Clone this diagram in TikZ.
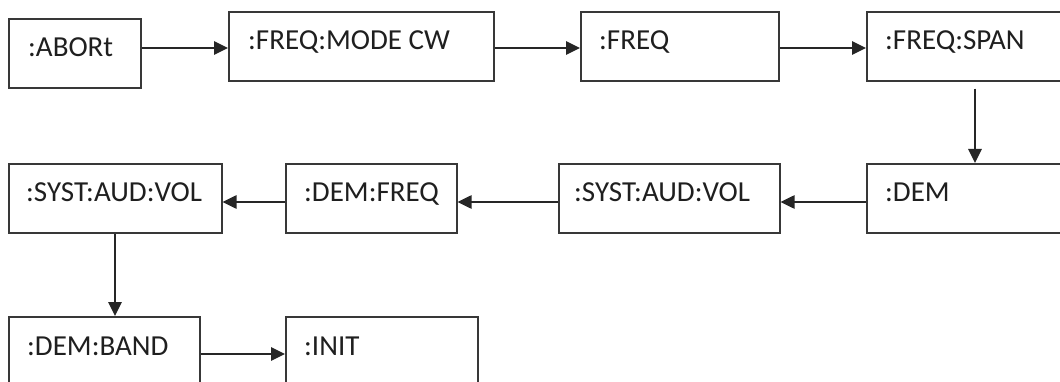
\documentclass[tikz,border=0pt]{standalone}
\usepackage{fontspec}
\setmainfont{Carlito}
\usetikzlibrary{arrows.meta}
\begin{document}
\begin{tikzpicture}[x=1pt,y=-1pt,
  box/.style={draw=black!78, line width=1.6pt, rectangle, inner sep=0pt, anchor=north west},
  txt/.style={inner sep=0pt, anchor=base west, text=black!88, font=\fontsize{29}{35}\selectfont},
  arr/.style={line width=1.3pt, draw=black!85, -{Triangle[length=14pt,width=13.5pt]}}]
\clip (0,0) rectangle (1060,382);
\useasboundingbox (0,0) rectangle (1060,382);
\fill[white] (0,0) rectangle (1060,382);
% boxes
\node[box, minimum width=132pt, minimum height=69pt] (b1) at (8,18) {};
\node[box, minimum width=265pt, minimum height=69pt] (b2) at (228,11) {};
\node[box, minimum width=198pt, minimum height=69pt] (b3) at (580,11) {};
\node[box, minimum width=214pt, minimum height=69pt] (b4) at (866,11) {};
\node[box, minimum width=214pt, minimum height=69pt] (b5) at (866,163) {};
\node[box, minimum width=221pt, minimum height=69pt] (b6) at (558,163) {};
\node[box, minimum width=171pt, minimum height=69pt] (b7) at (285,163) {};
\node[box, minimum width=213pt, minimum height=69pt] (b8) at (8,163) {};
\node[box, minimum width=191pt, minimum height=80pt] (b9) at (8,316) {};
\node[box, minimum width=192pt, minimum height=80pt] (b10) at (285,316) {};
% texts
\node[txt] (t1) at ([shift={(20pt,-39pt)}]b1.north west) {:ABORt};
\node[txt] (t2) at ([shift={(20pt,-39pt)}]b2.north west) {:FREQ:MODE CW};
\node[txt] (t3) at ([shift={(19pt,-39pt)}]b3.north west) {:FREQ};
\node[txt] (t4) at ([shift={(19pt,-39pt)}]b4.north west) {:FREQ:SPAN};
\node[txt] (t5) at ([shift={(19pt,-39pt)}]b5.north west) {:DEM};
\node[txt] (t6) at ([shift={(16pt,-39pt)}]b6.north west) {:SYST:AUD:VOL};
\node[txt] (t7) at ([shift={(19pt,-39pt)}]b7.north west) {:DEM:FREQ};
\node[txt] (t8) at ([shift={(18pt,-39pt)}]b8.north west) {:SYST:AUD:VOL};
\node[txt] (t9) at ([shift={(19pt,-39pt)}]b9.north west) {:DEM:BAND};
\node[txt] (t10) at ([shift={(19pt,-39pt)}]b10.north west) {:INIT};
% connectors
\coordinate (r1) at (0,48);
\coordinate (r2) at (0,202);
\coordinate (r3) at (0,354);
\coordinate (c1) at (975,0);
\coordinate (c2) at (115,0);
\draw[arr] (b1.east |- r1) -- (b2.west |- r1);
\draw[arr] (b2.east |- r1) -- (b3.west |- r1);
\draw[arr] (b3.east |- r1) -- (b4.west |- r1);
\draw[arr, shorten <=7pt] (b4.south -| c1) -- (b5.north -| c1);
\draw[arr] (b5.west |- r2) -- (b6.east |- r2);
\draw[arr] (b6.west |- r2) -- (b7.east |- r2);
\draw[arr] (b7.west |- r2) -- (b8.east |- r2);
\draw[arr] (b8.south -| c2) -- (b9.north -| c2);
\draw[arr] (b9.east |- r3) -- (b10.west |- r3);
\end{tikzpicture}
\end{document}
